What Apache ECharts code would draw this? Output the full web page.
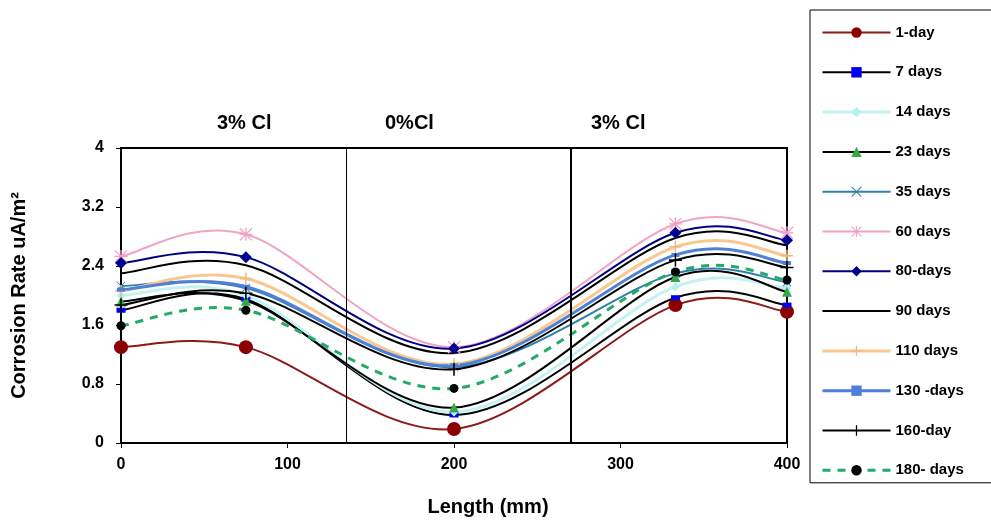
<!DOCTYPE html>
<html>
<head>
<meta charset="utf-8">
<script src="https://cdn.jsdelivr.net/npm/echarts@6/dist/echarts.min.js"></script>
<style>
  html, body { margin: 0; padding: 0; background: #fff; }
  #chart { width: 991px; height: 524px; }
</style>
</head>
<body>
<div id="chart"></div>
<script>
// positions along the bar (mm)
const lengths = [0, 75, 200, 333, 400];

// corrosion rate per exposure age
const day1 = [1.3, 1.3, 0.19, 1.87, 1.78];
const days7 = [1.8, 1.95, 0.38, 1.97, 1.87];
const days14 = [2.0, 2.0, 0.42, 2.12, 2.1];
const days23 = [1.92, 1.93, 0.48, 2.25, 2.05];
const days35 = [2.13, 2.1, 1.03, 2.3, 2.18];
const days60 = [2.53, 2.83, 1.3, 2.97, 2.85];
const days80 = [2.44, 2.52, 1.28, 2.85, 2.75];
const days90 = [2.3, 2.41, 1.22, 2.78, 2.68];
const days110 = [2.06, 2.23, 1.07, 2.66, 2.54];
const days130 = [2.08, 2.12, 1.05, 2.55, 2.44];
const days160 = [1.87, 2.03, 1.0, 2.48, 2.38];
const days180 = [1.59, 1.8, 0.74, 2.32, 2.21];

const zoneLabels = ['3% Cl', '0%Cl', '3% Cl'];
const zoneBounds = [135, 270];

const plusPath = 'path://M4.4,0h1.2v10h-1.2zM0,4.4h10v1.2h-10z';
const starPath = 'path://M4.5,0h1v10h-1zM0,4.5h10v1h-10zM0,0.7L0.7,0L10,9.3L9.3,10zM9.3,0L10,0.7L0.7,10L0,9.3z';
const crossPath = 'path://M0,0.7L0.7,0L10,9.3L9.3,10zM9.3,0L10,0.7L0.7,10L0,9.3z';

const pairs = vals => lengths.map((x, i) => [x, vals[i]]);

// Excel-style smoothed curve (cardinal spline through the data points)
function curveItem(params, api) {
  if (params.dataIndexInside !== 0) return null;
  const n = params.dataInsideLength;
  const pts = [];
  for (let j = 0; j < n; j++) {
    pts.push(api.coord([api.value(0, j), api.value(1, j)]));
  }
  let d = 'M' + pts[0][0] + ',' + pts[0][1];
  for (let i = 0; i < n - 1; i++) {
    const p0 = pts[Math.max(i - 1, 0)], p1 = pts[i], p2 = pts[i + 1], p3 = pts[Math.min(i + 2, n - 1)];
    const c1x = p1[0] + (p2[0] - p0[0]) / 6, c1y = p1[1] + (p2[1] - p0[1]) / 6;
    const c2x = p2[0] - (p3[0] - p1[0]) / 6, c2y = p2[1] - (p3[1] - p1[1]) / 6;
    d += 'C' + c1x + ',' + c1y + ',' + c2x + ',' + c2y + ',' + p2[0] + ',' + p2[1];
  }
  return {
    type: 'path',
    shape: { pathData: d },
    style: api.style({ fill: 'none' })
  };
}

const specs = [
  ['1-day', day1, '#8b1a1a', 2, 'circle', 14, '#8b0000'],
  ['7 days', days7, '#000', 2, 'rect', [9, 5], '#0000ee'],
  ['14 days', days14, '#c4f2f2', 3, 'diamond', 9, '#b8f0f0'],
  ['23 days', days23, '#000', 2, 'triangle', 10, '#33aa44'],
  ['35 days', days35, '#2f7fa8', 2, crossPath, 9, '#2f7fa8'],
  ['60 days', days60, '#f0a4c8', 2, starPath, 13, '#f0a0c8'],
  ['80-days', days80, '#000080', 2, 'diamond', 12, '#000090'],
  ['90 days', days90, '#000', 2, 'none', 1, '#000'],
  ['110 days', days110, '#f8c890', 3, plusPath, 12, '#f0b880'],
  ['130 -days', days130, '#4f80d8', 3, 'rect', [8, 4], '#4f80d8'],
  ['160-day', days160, '#000', 2, plusPath, 13, '#000'],
  ['180- days', days180, '#22aa66', 3, 'circle', 9, '#000', true]
];

const series = [];
const legendData = [];
specs.forEach(([name, vals, lineColor, width, symbol, size, symColor, dashed], k) => {
  const dash = dashed ? [8, 7] : null;
  // markers (and legend icon)
  series.push({
    name: name,
    type: 'line',
    data: pairs(vals),
    symbol: symbol,
    symbolSize: size,
    showSymbol: symbol !== 'none',
    lineStyle: { color: lineColor, width: width, type: dash || 'solid', opacity: 0 },
    itemStyle: { color: symColor, borderWidth: 0 },
    emphasis: { disabled: true },
    z: 3
  });
  // smoothed line
  series.push({
    name: name,
    type: 'custom',
    renderItem: curveItem,
    data: pairs(vals),
    encode: { x: 0, y: 1 },
    itemStyle: { color: 'none', borderColor: lineColor, borderWidth: width, borderType: dash || 'solid' },
    silent: true,
    legendHoverLink: false,
    z: 2 + k * 0.01
  });
  const item = { name: name, lineStyle: { opacity: 1, color: lineColor, width: width, type: dash || 'solid' } };
  if (symbol === 'none') item.itemStyle = { color: 'rgba(0,0,0,0)', opacity: 0 };
  legendData.push(item);
});

// zone boundaries
series[0].markLine = {
  silent: true,
  symbol: 'none',
  label: { show: false },
  data: [
    { xAxis: zoneBounds[0], lineStyle: { color: '#000', width: 1, type: 'solid', opacity: 1 } },
    { xAxis: zoneBounds[1], lineStyle: { color: '#000', width: 2, type: 'solid', opacity: 1 } }
  ]
};

const chart = echarts.init(document.getElementById('chart'), null, { renderer: 'canvas' });

const font = 'Liberation Sans, Arial, sans-serif';

chart.setOption({
  backgroundColor: '#fff',
  animation: false,
  textStyle: { fontFamily: font },
  grid: {
    left: 121, right: 204, top: 148, bottom: 81,
    show: true, borderColor: '#000', borderWidth: 2
  },
  xAxis: {
    type: 'value',
    min: 0, max: 400, interval: 100,
    name: 'Length (mm)',
    nameLocation: 'middle',
    nameGap: 54,
    nameTextStyle: { fontSize: 20, fontWeight: 'bold', color: '#000', padding: [0, 0, 0, 68], fontFamily: font },
    axisLine: { lineStyle: { color: '#000', width: 2 } },
    axisTick: { show: true, length: 5, lineStyle: { color: '#000', width: 1 } },
    axisLabel: { fontSize: 16, fontWeight: 'bold', color: '#000', margin: 14, fontFamily: font },
    splitLine: { show: false }
  },
  yAxis: {
    type: 'value',
    min: 0, max: 4, interval: 0.8,
    name: 'Corrosion Rate uA/m²',
    nameLocation: 'middle',
    nameGap: 92,
    nameTextStyle: { fontSize: 20, fontWeight: 'bold', color: '#000', fontFamily: font },
    axisLine: { lineStyle: { color: '#000', width: 2 } },
    axisTick: { show: true, length: 5, lineStyle: { color: '#000', width: 1 } },
    axisLabel: { fontSize: 16, fontWeight: 'bold', color: '#000', margin: 17, fontFamily: font },
    splitLine: { show: false }
  },
  legend: {
    orient: 'vertical',
    left: 810, top: 10,
    padding: [15, 60, 5, 11],
    borderColor: '#000', borderWidth: 1,
    itemWidth: 68, itemHeight: 13, itemGap: 24.8,
    textStyle: { fontSize: 15, fontWeight: 'bold', color: '#000', fontFamily: font },
    data: legendData
  },
  graphic: [
    { type: 'text', left: 217, top: 113, style: { text: zoneLabels[0], font: 'bold 20px ' + font, fill: '#000' } },
    { type: 'text', left: 385, top: 113, style: { text: zoneLabels[1], font: 'bold 20px ' + font, fill: '#000' } },
    { type: 'text', left: 591, top: 113, style: { text: zoneLabels[2], font: 'bold 20px ' + font, fill: '#000' } }
  ],
  series: series
});
</script>
</body>
</html>
